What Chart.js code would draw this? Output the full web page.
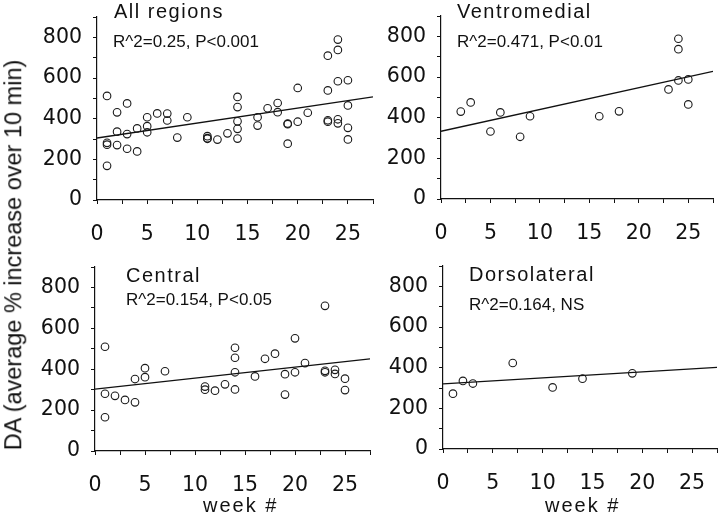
<!DOCTYPE html>
<html>
<head>
<meta charset="utf-8">
<script src="https://cdn.jsdelivr.net/npm/chart.js@4.4.1/dist/chart.umd.min.js"></script>
<style>
  html, body { margin: 0; padding: 0; background: #fff; }
  body { width: 720px; height: 516px; overflow: hidden; position: relative;
         font-family: "Liberation Sans", Arial, Helvetica, sans-serif; color: #111; }
  canvas { position: absolute; }
  .t { position: absolute; white-space: nowrap; line-height: 1; }
  .title { font-size: 20px; letter-spacing: 1.5px; }
  .stat { font-size: 17px; }
  .xt { font-size: 20px; letter-spacing: 2px; }
  .yt { font-size: 23.5px; left: 13.6px; top: 255px; transform: translate(-50%, -50%) rotate(-90deg); }
</style>
</head>
<body>
<canvas id="c1"></canvas>
<canvas id="c2"></canvas>
<canvas id="c3"></canvas>
<canvas id="c4"></canvas>

<div class="t title" id="h1">All regions</div>
<div class="t stat" id="s1">R^2=0.25, P&lt;0.001</div>
<div class="t title" id="h2">Ventromedial</div>
<div class="t stat" id="s2">R^2=0.471, P&lt;0.01</div>
<div class="t title" id="h3">Central</div>
<div class="t stat" id="s3">R^2=0.154, P&lt;0.05</div>
<div class="t title" id="h4">Dorsolateral</div>
<div class="t stat" id="s4">R^2=0.164, NS</div>
<div class="t xt" id="w3">week #</div>
<div class="t xt" id="w4">week #</div>
<div class="t yt">DA (average % increase over 10 min)</div>

<script>
// ---------- DATA ----------
const xTickLabels = [0, 5, 10, 15, 20, 25];
const yTickLabels = [0, 200, 400, 600, 800];

const allWeeks = [1,1,1,1, 2,2,2, 3,3,3, 4,4, 5,5,5, 6, 7,7, 8, 9, 11,11,11, 12, 13,
                  14,14,14,14,14, 16,16, 17, 18,18, 19,19,19, 20,20, 21,
                  23,23,23,23, 24,24,24,24,24, 25,25,25,25];
const allDA    = [512,281,272,168, 431,336,270, 475,324,252, 352,239, 407,363,333, 426, 425,391, 307, 407, 314,301,304, 297, 328,
                  507,457,387,350,302, 407,366, 451, 477,432, 376,277,373, 551,385, 429,
                  710,392,385,539, 397,377,584,738,789, 355,298,589,465];

const centralWeeks = [1,1,1, 2, 3, 4,4, 5,5, 7, 11,11, 12, 13, 14,14,14,14, 16, 17, 18, 19,19,
                      20,20, 21, 23,23,23, 24,24, 25,25];
const centralDA    = [510,280,165, 270, 250, 238,352, 405,361, 390, 315,300, 295, 326, 505,456,385,301, 365, 451, 476, 376,276,
                      551,385, 430, 710,392,385, 397,377, 354,298];

const ventroWeeks = [2, 3, 5, 6, 8, 9, 16, 18, 23, 24, 24, 24, 25, 25];
const ventroDA    = [430, 475, 332, 426, 306, 407, 407, 431, 539, 583, 737, 788, 588, 465];

const dorsoWeeks = [1, 2, 3, 7, 11, 14, 19];
const dorsoDA    = [272, 335, 322, 423, 303, 346, 372];

// regression lines: value at first and last week of the axis
const fitWeeks   = [0, 27.5];
const allFit     = [305, 507];
const centralFit = [303, 451];
const ventroFit  = [333, 628];
const dorsoFit   = [320, 401];

// ---------- LAYOUT ----------
const Y_W = 70, X_H = 58, PAD_T = 40, PAD_R = 30;
const panels = [
  { id: 'c1', xs: allWeeks,     ys: allDA,     fit: allFit,     box: { l: 97,  r: 373, t: 17,  b: 200 } },
  { id: 'c2', xs: ventroWeeks,  ys: ventroDA,  fit: ventroFit,  box: { l: 441, r: 713, t: 16,  b: 199 } },
  { id: 'c3', xs: centralWeeks, ys: centralDA, fit: centralFit, box: { l: 95,  r: 370, t: 267, b: 451 } },
  { id: 'c4', xs: dorsoWeeks,   ys: dorsoDA,   fit: dorsoFit,   box: { l: 443, r: 717, t: 266, b: 449 } }
];

const texts = [
  ['h1', 114, 18, 20], ['s1', 113, 47, 17],
  ['h2', 457, 18, 20], ['s2', 457, 47, 17],
  ['h3', 126, 282, 20], ['s3', 126, 305, 17],
  ['h4', 469, 281, 20], ['s4', 469, 310, 17],
  ['w3', 203, 512, 20], ['w4', 545, 512, 20]
];
texts.forEach(([id, x, base, fs]) => {
  const el = document.getElementById(id);
  el.style.left = x + 'px';
  el.style.top = (base - 0.8465 * fs) + 'px';
});

const tickFont = { family: '"DejaVu Sans", "Liberation Sans", Arial, sans-serif', size: 20.5 };
const ink = '#111';

function makeChart(p) {
  const canvas = document.getElementById(p.id);
  const b = p.box;
  const W = (b.r - b.l) + Y_W + PAD_R;
  const H = (b.b - b.t) + PAD_T + X_H;
  canvas.width = W; canvas.height = H;
  canvas.style.width = W + 'px'; canvas.style.height = H + 'px';

  const chart = new Chart(canvas, {
    type: 'scatter',
    data: {
      datasets: [
        {
          data: p.xs.map((x, i) => ({ x: x, y: p.ys[i] })),
          pointRadius: 3.8,
          pointHoverRadius: 3.8,
          pointBorderWidth: 1.1,
          pointBorderColor: '#1a1a1a',
          pointBackgroundColor: 'rgba(0,0,0,0)'
        },
        {
          data: fitWeeks.map((x, i) => ({ x: x, y: p.fit[i] })),
          showLine: true,
          borderColor: ink,
          borderWidth: 1.3,
          pointRadius: 0,
          pointHoverRadius: 0,
          fill: false
        }
      ]
    },
    options: {
      responsive: false,
      maintainAspectRatio: false,
      animation: false,
      devicePixelRatio: 1,
      events: [],
      layout: { padding: { top: PAD_T, right: PAD_R, left: 0, bottom: 0 } },
      plugins: { legend: { display: false }, tooltip: { enabled: false }, title: { display: false } },
      scales: {
        x: {
          type: 'linear', min: 0, max: 27.5,
          afterFit(s) { s.height = X_H; },
          border: { display: true, color: ink, width: 1.2 },
          grid: { drawOnChartArea: false, drawTicks: true, tickLength: 4, color: ink, lineWidth: 1 },
          ticks: {
            stepSize: 2.5, autoSkip: false, maxRotation: 0, minRotation: 0,
            padding: 18, color: ink, font: tickFont,
            callback: (v) => xTickLabels.includes(v) ? String(v) : ''
          }
        },
        y: {
          type: 'linear', min: 0, max: 900,
          afterFit(s) { s.width = Y_W; },
          border: { display: true, color: ink, width: 1.2 },
          grid: { drawOnChartArea: false, drawTicks: true, tickLength: 4, color: ink, lineWidth: 1 },
          ticks: {
            stepSize: 100, autoSkip: false, padding: 11, color: ink, font: tickFont,
            callback: (v) => yTickLabels.includes(v) ? String(v) : ''
          }
        }
      }
    }
  });

  // make the plot area exactly the size of the reference panel, then place it
  for (let k = 0; k < 3; k++) {
    const ca = chart.chartArea;
    const dw = (b.r - b.l) - (ca.right - ca.left);
    const dh = (b.b - b.t) - (ca.bottom - ca.top);
    if (Math.abs(dw) < 0.5 && Math.abs(dh) < 0.5) break;
    chart.resize(chart.width + dw, chart.height + dh);
  }
  const ca = chart.chartArea;
  canvas.style.left = (b.l - ca.left) + 'px';
  canvas.style.top = (b.t - ca.top) + 'px';
  return chart;
}

panels.forEach(makeChart);
</script>
</body>
</html>
